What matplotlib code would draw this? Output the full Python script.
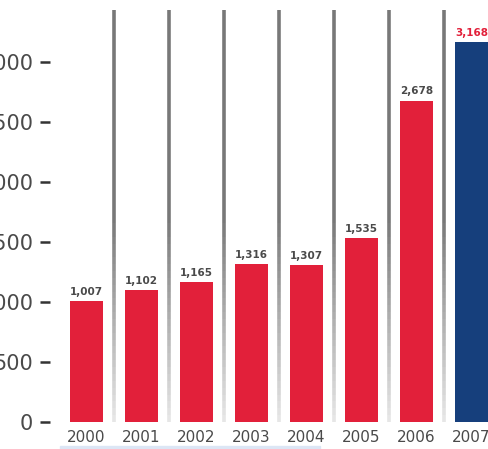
import numpy as np
import matplotlib
matplotlib.use("Agg")
import matplotlib.pyplot as plt
from matplotlib.collections import LineCollection

# data
years = ["2000", "2001", "2002", "2003", "2004", "2005", "2006", "2007"]
values = [1007, 1102, 1165, 1316, 1307, 1535, 2678, 3168]
value_labels = ["1,007", "1,102", "1,165", "1,316", "1,307", "1,535", "2,678", "3,168"]
yticks = [0, 500, 1000, 1500, 2000, 2500, 3000]

RED = "#e2203a"
BLUE = "#163f7c"
TEXT = "#4a4a4a"

W, H = 489, 449
fig = plt.figure(figsize=(W / 100, H / 100), dpi=100)
fig.patch.set_facecolor("white")

# axes placed so the y tick labels run off the left edge, as in the crop
left, bottom = 50, 27
ax = fig.add_axes([left / W, bottom / H, (W - left) / W, (H - bottom) / H])
ax.set_facecolor("none")

x = np.arange(len(years))
ax.set_xlim(-0.66, len(years) - 1 + 0.32)
ax.set_ylim(0, 3517)

# faded grey separators between bars (dark at top, pale at bottom)
n = 60
ys = np.linspace(3433, 0, n + 1)
for xs in x[:-1] + 0.5:
    segs = [[(xs, ys[i]), (xs, ys[i + 1])] for i in range(n)]
    shades = np.concatenate([np.full(n // 2, 0.47), np.linspace(0.47, 0.9, n - n // 2)])
    cols = [(s, s, s, 1.0) for s in shades]
    ax.add_collection(LineCollection(segs, colors=cols, linewidths=2.6, zorder=1))

colors = [RED] * (len(years) - 1) + [BLUE]
ax.bar(x, values, width=0.6, color=colors, zorder=2)

for xi, v, lab in zip(x, values, value_labels):
    c = RED if xi == len(years) - 1 else TEXT
    ax.text(xi, v + 35, lab, ha="center", va="bottom", fontsize=7.5,
            fontweight="bold", color=c, zorder=3)

ax.set_yticks(yticks)
ax.set_yticklabels([str(t) for t in yticks])
ax.tick_params(axis="y", length=7, width=1.8, color="#333333", pad=5,
               labelsize=15, labelcolor=TEXT)
ax.set_xticks(x)
ax.set_xticklabels(years)
ax.tick_params(axis="x", length=0, pad=6, labelsize=11, labelcolor=TEXT)

for s in ax.spines.values():
    s.set_visible(False)

# pale blue band along the bottom edge
fig.add_artist(plt.Rectangle((60 / W, 0), 260 / W, 3 / H, color="#dce6f5",
                             transform=fig.transFigure, zorder=0))

fig.savefig("out.png", dpi=100)
